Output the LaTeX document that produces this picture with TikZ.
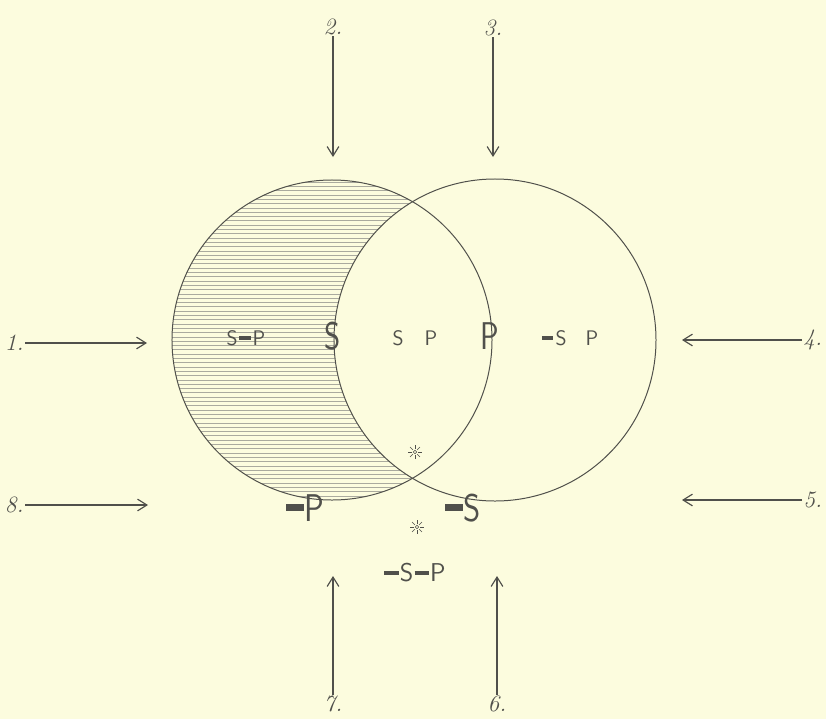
\documentclass[tikz,border=0pt]{standalone}
\usetikzlibrary{arrows.meta}
\definecolor{bg}{RGB}{252,252,222}
\definecolor{ink}{RGB}{80,80,75}
\definecolor{hatch}{RGB}{170,170,158}
\newcommand\nbar{\rule[0.27em]{0.55em}{0.17em}}
\begin{document}
\begin{tikzpicture}[x=0.03cm,y=-0.03cm,
  circ/.style={draw=ink, line width=0.85pt, circle, inner sep=0pt, minimum size=9.6cm},
  arr/.style={draw=ink, line width=1pt, -{Straight Barb[length=8pt,width=10pt]}},
  num/.style={text=ink, font=\fontsize{20}{20}\selectfont\itshape, inner sep=1pt},
  lab/.style={text=ink, font=\fontsize{18}{18}\selectfont\sffamily, inner sep=0pt},
  big/.style={text=ink, font=\fontsize{33}{33}\selectfont\sffamily, inner sep=0pt},
  mid/.style={text=ink, font=\fontsize{22}{22}\selectfont\sffamily, inner sep=0pt},
  astr/.pic={\draw[ink, line width=0.5pt] (0,0) circle (1.8);
    \foreach \a in {0,45,...,315} \draw[ink, line width=0.5pt] (\a:3) -- (\a:7);}
]
\fill[bg] (0,0) rectangle (826,719);
\useasboundingbox (0,0) rectangle (826,719);

% shading of the crescent
\begin{scope}
  \clip (332,340) circle (160);
  \foreach \y in {182,186.3,...,500} \draw[hatch, line width=0.45pt] (165,\y) -- (420,\y);
  \fill[bg] (495,340) circle (161);
\end{scope}

\node[circ] (cS) at (332,340) {};
\node[circ, minimum size=9.66cm] (cP) at (495,340) {};

% labels inside
\node[lab] (sp1) at (246,338) {S\hspace{0.08em}\nbar\hspace{0.08em}P};
\node[big, xscale=0.8] (bigS) at (333,336) {S};
\node[lab] (sp2) at (415,338) {S\hspace{1em}P};
\node[big, xscale=0.8] (bigP) at (490,336) {P};
\node[lab] (sp3) at (570,338) {\nbar\hspace{0.1em}S\hspace{0.9em}P};
\node[big, xscale=0.85] (nP) at (305,508) {\nbar P};
\node[big, xscale=0.85] (nS) at (463,508) {\nbar S};
\node[mid] (nSP) at (415,573) {\nbar\hspace{0.05em}S\hspace{0.05em}\nbar\hspace{0.05em}P};
\pic at (415,452) {astr};
\pic at (417,527) {astr};

% numbered arrows
\node[num, anchor=east] (n1) at (25,343) {1.};
\coordinate (t1) at (147,343);
\draw[arr] (n1.east) -- (t1);
\node[num, anchor=east] (n8) at (25,505) {8.};
\coordinate (t8) at (148,505);
\draw[arr] (n8.east) -- (t8);
\node[num, anchor=west] (n4) at (802,340) {4.};
\coordinate (t4) at (682,340);
\draw[arr] (n4.west) -- (t4);
\node[num, anchor=west] (n5) at (802,500) {5.};
\coordinate (t5) at (682,500);
\draw[arr] (n5.west) -- (t5);
\node[num, anchor=south] (n2) at (333,36) {2.};
\coordinate (t2) at (333,157);
\draw[arr] (n2.south) -- (t2);
\node[num, anchor=south] (n3) at (493,37) {3.};
\coordinate (t3) at (493,157);
\draw[arr] (n3.south) -- (t3);
\node[num, anchor=north] (n7) at (333,695) {7.};
\coordinate (t7) at (333,576);
\draw[arr] (n7.north) -- (t7);
\node[num, anchor=north] (n6) at (497,695) {6.};
\coordinate (t6) at (497,576);
\draw[arr] (n6.north) -- (t6);
\end{tikzpicture}
\end{document}
